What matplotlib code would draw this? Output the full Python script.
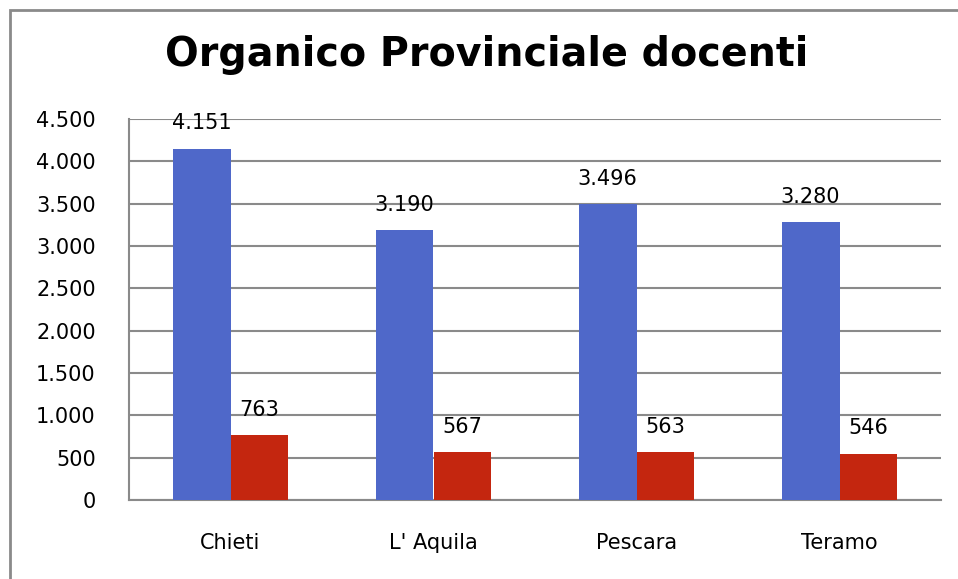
import matplotlib
matplotlib.use("Agg")
import matplotlib.pyplot as plt
import numpy as np
from matplotlib.ticker import FuncFormatter
from matplotlib.patches import Rectangle

province = ["Chieti", "L' Aquila", "Pescara", "Teramo"]
serie_a = [4151, 3190, 3496, 3280]
serie_b = [763, 567, 563, 546]

blu = "#4f68c9"
rosso = "#c4260f"
grigio = "#8a8a8a"

def fmt_it(v, pos=None):
    return "{:,.0f}".format(v).replace(",", ".")

fig = plt.figure(figsize=(9.58, 5.79), dpi=100)
ax = fig.add_axes([129/958, 1 - 500/579, (941-129)/958, (500-119)/579])

x = np.arange(len(province))
w = 0.285
b1 = ax.bar(x - w/2, serie_a, w, color=blu, zorder=3)
b2 = ax.bar(x + w/2, serie_b, w, color=rosso, zorder=3)

for rects, vals in ((b1, serie_a), (b2, serie_b)):
    for r, v in zip(rects, vals):
        ax.annotate(fmt_it(v), (r.get_x() + r.get_width()/2, v),
                    xytext=(0, 11), textcoords="offset points",
                    ha="center", va="bottom", fontsize=15)

ax.set_xlim(-0.5, len(province) - 0.5)
ax.set_ylim(0, 4500)
ax.set_yticks(np.arange(0, 4501, 500))
ax.yaxis.set_major_formatter(FuncFormatter(fmt_it))
ax.set_xticks(x)
ax.set_xticklabels(province)
ax.tick_params(axis="both", length=0, labelsize=15)
ax.tick_params(axis="x", pad=24)
ax.tick_params(axis="y", pad=24)
ax.grid(axis="y", color=grigio, linewidth=1.5, zorder=0)
for s in ["top", "right"]:
    ax.spines[s].set_visible(False)
for s in ["left", "bottom"]:
    ax.spines[s].set_color(grigio)
    ax.spines[s].set_linewidth(1.5)

fig.text(487/958, 1 - 55/579, "Organico Provinciale docenti", ha="center", va="center",
         fontsize=28.5, fontweight="bold")

# cornice
fig.patches.append(Rectangle((10/958, -0.1), 1.2, 1 - 10/579 + 0.1,
                             transform=fig.transFigure, fill=False,
                             edgecolor=grigio, linewidth=2))

fig.savefig("out.png", dpi=100)
